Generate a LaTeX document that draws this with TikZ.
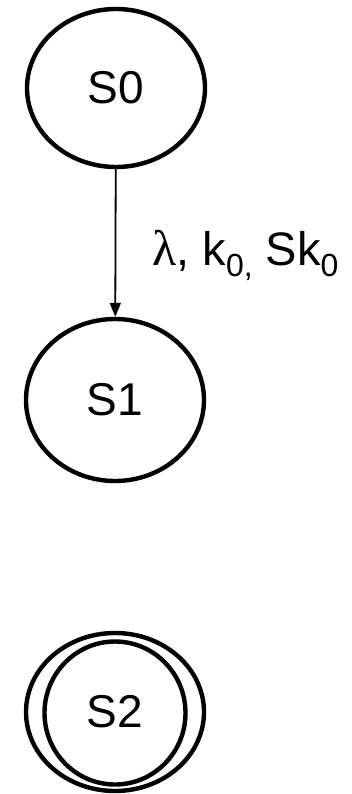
\documentclass[tikz,border=0pt]{standalone}
\usepackage{fontspec}
\setmainfont{Liberation Sans}
\newfontfamily\greekfont{Liberation Serif}
\usetikzlibrary{arrows.meta,shapes.geometric}

\newcommand{\lowsub}[1]{\raisebox{-11pt}{\fontsize{32}{34}\selectfont #1}}

\tikzset{
  state/.style={ellipse, draw, line width=4.4pt, inner sep=0pt,
    minimum width=178pt, minimum height=158pt, font=\fontsize{46}{50}\selectfont},
  ring/.style={ellipse, draw, line width=4.4pt, inner sep=0pt,
    minimum width=141pt, minimum height=143pt},
}

\begin{document}
\begin{tikzpicture}[x=1pt, y=-1pt]
\path[use as bounding box] (0,0) rectangle (352,794);
\node (S0) [state] at (116,88) {S0};
\node (S1) [state, minimum height=162pt] at (115,400) {S1};
\node (S2) [state] at (115,712) {S2};
\node (S2in) [ring] at (115,713) {};
\draw[line width=1.8pt, -{Triangle[length=14pt, width=11pt]}] (S0) -- (S1);
\node (lab) [anchor=base west, inner sep=0pt, font=\fontsize{47}{50}\selectfont] at (152,265)
  {{\greekfont\fontsize{50}{52}\selectfont λ}, k\lowsub{0,} Sk\lowsub{0}};
\end{tikzpicture}
\end{document}
